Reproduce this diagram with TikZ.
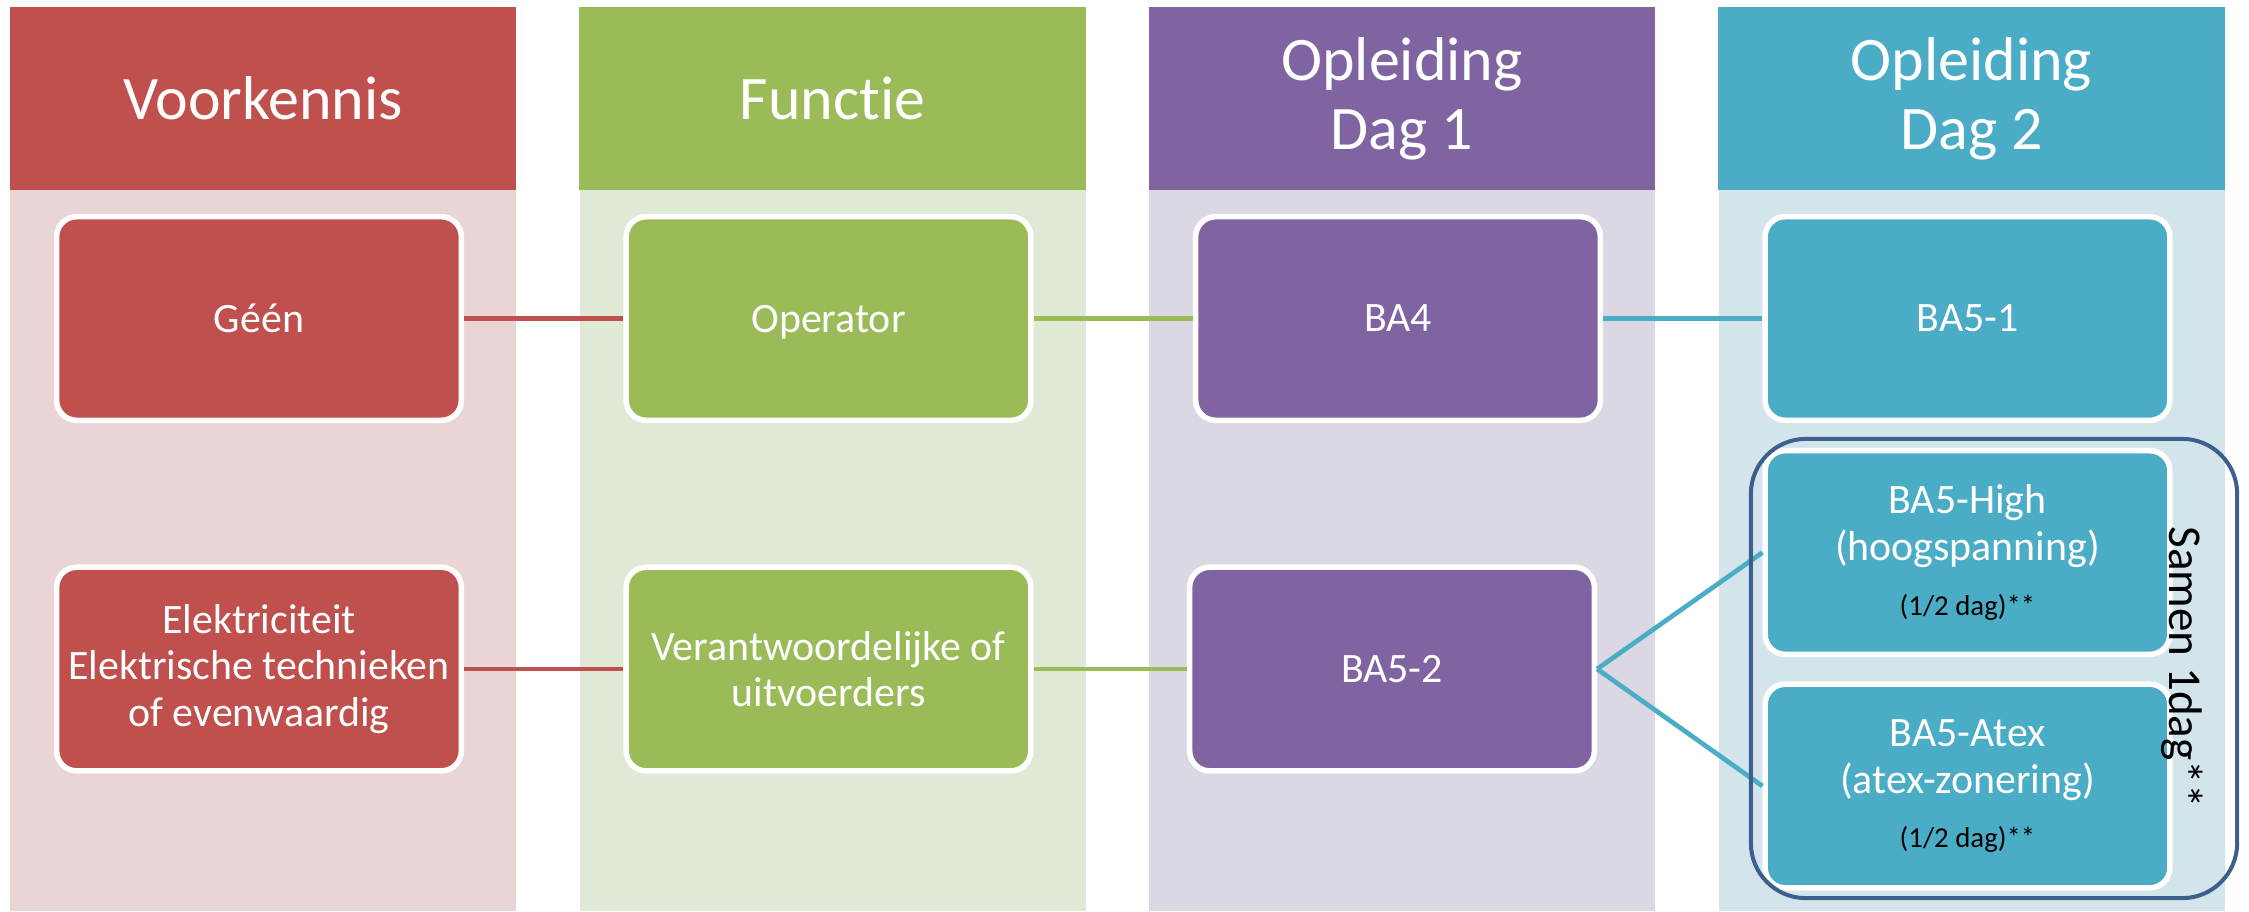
\documentclass[tikz,border=0pt]{standalone}
\usepackage{fontspec}
\setmainfont{Carlito}[Ligatures=NoCommon]
\usepackage{tikz}
\definecolor{rood}{HTML}{C0504D}
\definecolor{roodlicht}{HTML}{E9D5D5}
\definecolor{groen}{HTML}{9BBB59}
\definecolor{groenlicht}{HTML}{E0E8D6}
\definecolor{paars}{HTML}{8064A2}
\definecolor{paarslicht}{HTML}{DBD8E4}
\definecolor{blauw}{HTML}{4BACC6}
\definecolor{blauwlicht}{HTML}{D3E4EB}
\definecolor{samenblauw}{HTML}{3C5F8E}
\newcommand{\kleintekst}{\fontsize{8.2}{9.8}\selectfont}
\tikzset{
  kop/.style={minimum width=5.06cm, minimum height=1.83cm, inner sep=0pt,
    text=white, align=center, font=\fontsize{17.6}{19.6}\selectfont},
  blok/.style={draw=white, line width=0.055cm, rounded corners=0.2cm,
    minimum width=4.045cm, minimum height=2.035cm, inner sep=0pt,
    text=white, align=center, font=\fontsize{11.9}{13.3}\selectfont},
  lijn/.style={line width=0.047cm},
  groep/.style={draw=samenblauw, line width=0.04cm, rounded corners=0.55cm,
    minimum width=4.86cm, minimum height=4.59cm, inner sep=0pt}
}

\begin{document}
\begin{tikzpicture}[x=0.01cm,y=-0.01cm]
  \useasboundingbox (0,0) rectangle (2249,911);
  % kolommen
  \fill[roodlicht] (10,190) rectangle (516,911);
  \fill[groenlicht] (579.5,190) rectangle (1085.5,911);
  \fill[paarslicht] (1149,190) rectangle (1655,911);
  \fill[blauwlicht] (1718.5,190) rectangle (2224.5,911);
  \node[kop, fill=rood] (voorkennis) at (263,98.5) {Voorkennis};
  \node[kop, fill=groen] (functie) at (832.5,98.5) {Functie};
  \node[kop, fill=paars] (dag1) at (1402,98.5) {Opleiding\\Dag 1};
  \node[kop, fill=blauw] (dag2) at (1971.5,98.5) {Opleiding\\Dag 2};
  % blokken
  \node[blok, fill=rood] (geen) at (259,318.5) {Géén};
  \node[blok, fill=rood] (elek) at (259,669)
    {Elektriciteit\\Elektrische technieken\\of evenwaardig};
  \node[blok, fill=groen, text depth=0pt] (operator) at (828.5,318.5) {Operator};
  \node[blok, fill=groen] (verantw) at (828.5,669)
    {Verantwoordelijke of\\uitvoerders};
  \node[blok, fill=paars] (ba4) at (1398,318.5) {BA4};
  \node[blok, fill=paars] (ba52) at (1392,669) {BA5-2};
  \node[blok, fill=blauw] (ba51) at (1967.5,318.5) {BA5-1};
  \node[blok, fill=blauw] (high) at (1967.5,552.5)
    {BA5-High\\(hoogspanning)\\[2.2pt]{\kleintekst\color{black}(1/2 dag)**}};
  \node[blok, fill=blauw] (atex) at (1967.5,786)
    {BA5-Atex\\(atex-zonering)\\[2.2pt]{\kleintekst\color{black}(1/2 dag)**}};
  % verbindingen
  \draw[lijn, rood] (geen) -- (operator);
  \draw[lijn, rood] (elek) -- (verantw);
  \draw[lijn, groen] (operator) -- (ba4);
  \draw[lijn, groen] (verantw) -- (ba52);
  \draw[lijn, blauw] (ba4) -- (ba51);
  \draw[lijn, blauw] (ba52.east) -- (high.west);
  \draw[lijn, blauw] (ba52.east) -- (atex.west);
  % samen 1 dag
  \node[groep] (samen) at (1994,668.5) {};
  \node[rotate=-90, font=\fontsize{13.4}{16}\selectfont] (samentekst)
    at (2182,667) {Samen 1dag**};
\end{tikzpicture}
\end{document}
